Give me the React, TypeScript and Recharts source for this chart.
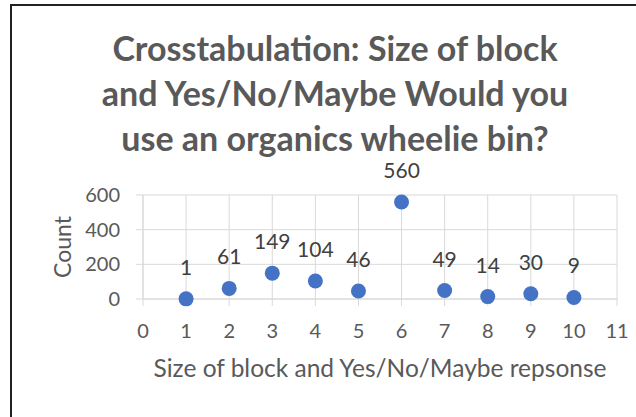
import { ScatterChart, Scatter, XAxis, YAxis, CartesianGrid } from "recharts";

const sizes = [1, 2, 3, 4, 5, 6, 7, 8, 9, 10];
const counts = [1, 61, 149, 104, 46, 560, 49, 14, 30, 9];
const xTicks = [0, 1, 2, 3, 4, 5, 6, 7, 8, 9, 10, 11];
const yTicks = [0, 200, 400, 600];
const titleLines = [
  "Crosstabulation: Size of block",
  "and Yes/No/Maybe Would you",
  "use an organics wheelie bin?",
];

const data = sizes.map((x, i) => ({ x, y: counts[i] }));

const FONT = "Lato, 'Open Sans', sans-serif";
const GRID = "#d9d9d9";
const TEXT = "#595959";

const tickStyle = { fontSize: 20, fontFamily: FONT, fill: TEXT };

// dot plus its value label, drawn above the point
const PointWithLabel = (props: any) => {
  const { cx, cy, payload } = props;
  return (
    <g>
      <circle cx={cx} cy={cy} r={7.5} fill="#4472c4" />
      <text
        x={cx}
        y={cy - 24}
        textAnchor="middle"
        fontSize={21}
        fontFamily={FONT}
        fill="#404040"
      >
        {payload.y}
      </text>
    </g>
  );
};

const CountLabel = ({ viewBox }: any) => {
  const cy = viewBox.y + viewBox.height / 2;
  return (
    <text
      x={62}
      y={cy}
      transform={`rotate(-90, 62, ${cy})`}
      textAnchor="middle"
      dominantBaseline="central"
      fontSize={23}
      fontFamily={FONT}
      fill={TEXT}
    >
      Count
    </text>
  );
};

const SizeLabel = ({ viewBox }: any) => (
  <text
    x={viewBox.x + viewBox.width / 2}
    y={377}
    textAnchor="middle"
    fontSize={24.5}
    fontFamily={FONT}
    fill={TEXT}
  >
    Size of block and Yes/No/Maybe repsonse
  </text>
);

export default function App() {
  return (
    <div
      style={{
        position: "absolute",
        left: 0,
        top: 0,
        width: 636,
        height: 417,
        background: "#fff",
        overflow: "hidden",
      }}
    >
      <div
        style={{
          position: "absolute",
          left: 10,
          top: 4,
          width: 700,
          height: 500,
          border: "2px solid #222",
        }}
      />
      <div
        style={{
          position: "absolute",
          left: 35,
          top: 29,
          width: 600,
          textAlign: "center",
          fontFamily: FONT,
          fontWeight: 700,
          fontSize: 34,
          lineHeight: "38px",
          color: TEXT,
        }}
      >
        {titleLines.map((l, i) => (
          <div key={l} style={{ marginTop: i ? 7 : 0 }}>
            {l}
          </div>
        ))}
      </div>
      <div style={{ position: "absolute", left: 0, top: 0 }}>
        <ScatterChart
          width={636}
          height={417}
          margin={{ top: 195, right: 19, bottom: 0, left: 0 }}
        >
          <CartesianGrid stroke={GRID} strokeWidth={1} />
          <XAxis
            type="number"
            dataKey="x"
            domain={[0, 11]}
            ticks={xTicks}
            interval={0}
            height={118}
            tickSize={7}
            tickMargin={18}
            stroke={GRID}
            tick={tickStyle}
            label={<SizeLabel />}
          />
          <YAxis
            type="number"
            dataKey="y"
            domain={[0, 600]}
            ticks={yTicks}
            interval={0}
            width={143}
            tickSize={7}
            tickMargin={16}
            stroke={GRID}
            tick={tickStyle}
            label={<CountLabel />}
          />
          <Scatter
            data={data}
            shape={<PointWithLabel />}
            isAnimationActive={false}
          />
        </ScatterChart>
      </div>
    </div>
  );
}
